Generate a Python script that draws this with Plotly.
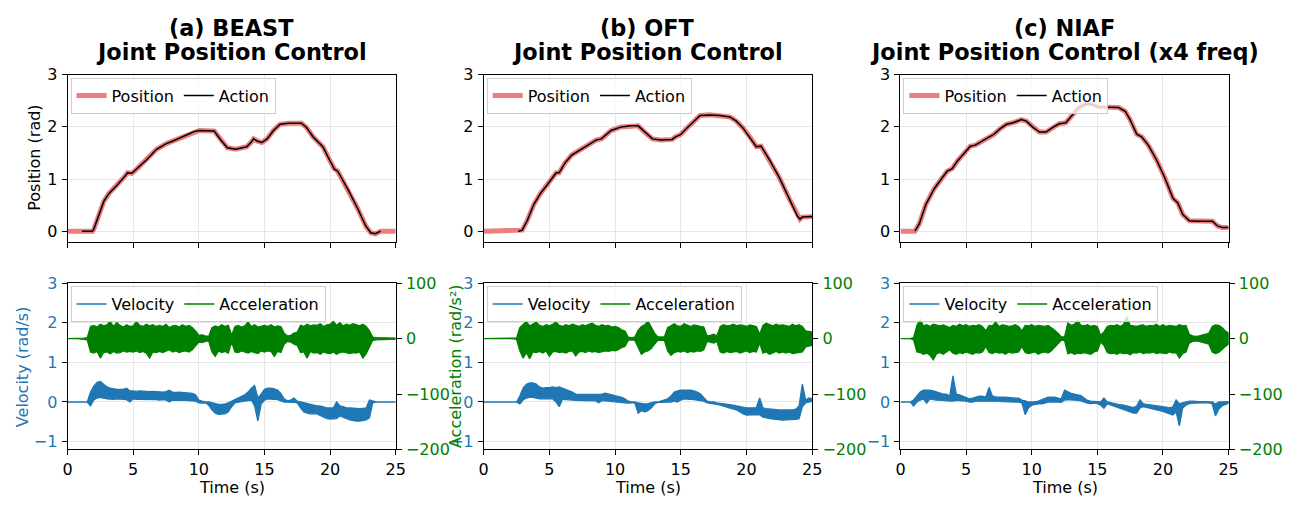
import plotly.graph_objects as go

# ---------------- data ----------------
titles_l1 = ["(a) BEAST", "(b) OFT", "(c) NIAF"]
titles_l2 = ["Joint Position Control", "Joint Position Control", "Joint Position Control (x4 freq)"]

# Joint position (rad) vs time (s)
posA_t = [0, 1.1, 1.9, 2.0, 2.38, 2.76, 3.14, 3.77, 4.39, 4.57, 4.9, 5.27, 6.02, 6.78, 7.53, 8.03,
          8.78, 9.66, 10.04, 11.17, 11.67, 12.17, 12.8, 13.65, 14.0, 14.18, 14.43, 14.8, 15.2, 15.69,
          16.19, 16.82, 17.82, 18.2, 18.7, 19.45, 19.95, 20.33, 20.58, 21.34, 22.09, 22.72, 23.1,
          23.46, 23.85, 25]
posA_v = [0, 0, 0, 0.04, 0.32, 0.57, 0.72, 0.88, 1.06, 1.12, 1.11, 1.19, 1.37, 1.57, 1.68, 1.73,
          1.81, 1.91, 1.93, 1.92, 1.75, 1.6, 1.57, 1.62, 1.71, 1.77, 1.73, 1.70, 1.77, 1.93,
          2.05, 2.07, 2.07, 1.99, 1.81, 1.62, 1.37, 1.19, 1.15, 0.81, 0.44, 0.10, -0.03,
          -0.05, 0, 0]
actA_range = (1.1, 23.85)

posB_t = [0, 2.63, 2.68, 2.93, 3.31, 3.81, 4.31, 4.81, 5.32, 5.52, 5.74, 6.19, 6.7, 7.2, 7.82,
          8.58, 8.95, 9.7, 10.46, 11.2, 11.76, 12.21, 12.84, 13.47, 14.34, 14.6, 14.97, 15.47,
          15.97, 16.47, 17.23, 17.98, 18.73, 19.23, 19.73, 20.36, 20.74, 21.11, 21.74, 22.49,
          23.24, 23.87, 24.07, 24.25, 25]
posB_v = [0, 0, 0, 0.02, 0.2, 0.51, 0.72, 0.88, 1.06, 1.12, 1.12, 1.31, 1.46, 1.54, 1.63,
          1.75, 1.77, 1.93, 2.0, 2.02, 2.02, 1.91, 1.77, 1.75, 1.76, 1.81, 1.85, 1.98,
          2.11, 2.22, 2.23, 2.22, 2.19, 2.11, 1.98, 1.77, 1.62, 1.63, 1.37, 1.03,
          0.63, 0.29, 0.23, 0.27, 0.28]
actB_range = (2.63, 25)

posC_t = [0, 1.1, 1.43, 1.93, 2.56, 3.19, 3.56, 3.94, 4.32, 4.94, 5.32, 5.7, 6.2, 6.7, 7.08,
          7.58, 8.08, 8.58, 9.21, 9.59, 10.09, 10.59, 11.09, 11.6, 12.1, 12.6, 13.1, 13.6, 14.1,
          14.48, 15.11, 15.86, 16.62, 17.12, 17.49, 18.0, 18.37, 18.88, 19.5, 20.13, 20.76,
          21.13, 21.51, 22.01, 22.64, 23.77, 24.15, 24.52, 25]
posC_v = [0, 0, 0.14, 0.51, 0.81, 1.03, 1.15, 1.2, 1.34, 1.52, 1.63, 1.65, 1.73, 1.8, 1.85,
          1.96, 2.05, 2.08, 2.14, 2.11, 1.99, 1.9, 1.9, 1.99, 2.06, 2.08, 2.23, 2.37, 2.44,
          2.44, 2.38, 2.38, 2.37, 2.30, 2.14, 1.86, 1.81, 1.65, 1.37, 1.03, 0.63,
          0.54, 0.32, 0.2, 0.19, 0.19, 0.1, 0.07, 0.07]
actC_range = (1.1, 25)

# Sample times of the velocity / acceleration envelopes (every 0.25 s, 0..25 s)
env_t = [i * 0.25 for i in range(101)]

# Velocity (rad/s): upper / lower envelope of the noisy trace
velA_hi = [0, 0, 0, 0,  0, 0, 0, 0.25,  0.4, 0.5, 0.52, 0.45,  0.38, 0.35, 0.33, 0.32,
           0.32, 0.32, 0.35, 0.28,  0.28, 0.27, 0.28, 0.27,  0.27, 0.26, 0.27, 0.26,
           0.26, 0.25, 0.26, 0.3,  0.25, 0.24, 0.25, 0.24,  0.24, 0.23, 0.22, 0.18,
           0.05, 0.02, 0.0, 0.0,  -0.02, -0.05, -0.06, -0.06,  -0.05, -0.02, 0.02, 0.05,
           0.1, 0.12, 0.18, 0.25,  0.35, 0.42, 0.1, 0.2,  0.32, 0.35, 0.35, 0.33,
           0.3, 0.22, 0.08, 0.03,  0.05, 0.1, 0.02, 0.0,  -0.02, -0.05, -0.07, -0.08,
           -0.1, -0.1, -0.12, -0.15,  -0.15, -0.15, 0.0, -0.1,  -0.12, -0.15, -0.15, -0.16,
           -0.17, -0.17, -0.16, -0.15,  0.05, 0.02, 0, 0,  0, 0, 0, 0,  0]
velA_lo = [0, 0, 0, 0,  0, 0, 0, -0.1,  0.05, 0.1, 0.12, 0.1,  0.08, 0.07, 0.07, 0.08,
           0.08, 0.07, 0.06, 0.0,  0.08, 0.07, 0.07, 0.06,  0.06, 0.07, 0.06, 0.06,
           0.05, 0.06, 0.05, 0.0,  0.05, 0.04, 0.05, 0.04,  0.04, 0.03, 0.03, 0.02,
           -0.02, -0.03, -0.02, -0.08,  -0.2, -0.28, -0.31, -0.31,  -0.3, -0.25, -0.12, -0.02,
           0.0, 0.01, 0.02, 0.03,  0.05, -0.1, -0.48, -0.05,  0.05, 0.08, 0.08, 0.07,
           0.06, 0.03, 0.0, -0.01,  -0.01, -0.01, -0.02, -0.15,  -0.25, -0.28, -0.3, -0.3,
           -0.3, -0.35, -0.38, -0.42,  -0.43, -0.43, -0.42, -0.35,  -0.38, -0.42, -0.45, -0.47,
           -0.48, -0.48, -0.47, -0.45,  -0.4, -0.02, 0, 0,  0, 0, 0, 0,  0]

velB_hi = [0, 0, 0, 0,  0, 0, 0, 0,  0, 0, 0, 0.15,  0.35, 0.45, 0.48, 0.48,
           0.45, 0.38, 0.35, 0.36,  0.36, 0.38, 0.36, 0.38,  0.35, 0.32, 0.28, 0.25,
           0.2, 0.19, 0.19, 0.19,  0.19, 0.19, 0.19, 0.2,  0.2, 0.22, 0.2, 0.18,
           0.15, 0.14, 0.12, 0.08,  0.02, 0.0, 0.0, -0.02,  -0.03, -0.05, -0.04, -0.02,
           0.0, 0.0, 0.02, 0.05,  0.08, 0.15, 0.25, 0.28,  0.3, 0.3, 0.3, 0.3,
           0.28, 0.25, 0.2, 0.12,  0.02, 0.0, 0.0, -0.02,  -0.03, -0.04, -0.05, -0.06,
           -0.08, -0.1, -0.12, -0.14,  -0.15, -0.15, -0.15, -0.14,  0.1, -0.15, -0.17, -0.18,
           -0.19, -0.2, -0.2, -0.2,  -0.2, -0.2, -0.2, -0.18,  -0.1, 0.45, 0.05, 0.1,  0.08]
velB_lo = [0, 0, 0, 0,  0, 0, 0, 0,  0, 0, 0, -0.05,  0.05, 0.1, 0.12, 0.12,
           0.1, 0.08, 0.07, 0.08,  0.08, 0.08, 0.0, -0.12,  0.07, 0.06, 0.05, 0.05,
           0.04, 0.04, 0.03, 0.03,  0.03, 0.03, 0.03, -0.02,  0.03, 0.03, 0.02, 0.02,
           0.01, 0.0, -0.01, -0.02,  -0.03, -0.02, -0.02, -0.28,  -0.22, -0.25, -0.22, -0.15,
           -0.05, -0.01, -0.01, -0.01,  0.0, 0.0, 0.02, 0.0,  0.05, 0.08, 0.08, 0.07,
           0.06, 0.05, 0.04, 0.02,  -0.02, -0.03, -0.05, -0.06,  -0.08, -0.1, -0.12, -0.15,
           -0.18, -0.2, -0.25, -0.3,  -0.33, -0.33, -0.32, -0.32,  -0.32, -0.38, -0.4, -0.42,
           -0.44, -0.45, -0.45, -0.46,  -0.45, -0.45, -0.44, -0.44,  -0.42, -0.12, -0.02, 0.0,  0.02]

velC_hi = [0, 0, 0, 0,  0.05, 0.15, 0.25, 0.3,  0.3, 0.3, 0.28, 0.25,  0.22, 0.2, 0.2, 0.15,
           0.66, 0.2, 0.18, 0.15,  0.12, 0.08, 0.1, 0.12,  0.15, 0.15, 0.12, 0.37,
           0.15, 0.13, 0.12, 0.12,  0.12, 0.11, 0.11, 0.1,  0.1, 0.05, 0.03, 0.0,
           0.0, 0.0, 0.02, 0.05,  0.08, 0.12, 0.12, 0.12,  0.1, 0.08, 0.3, 0.25,
           0.22, 0.2, 0.18, 0.16,  0.1, 0.04, 0.02, 0.02,  0.01, 0.0, 0.1, 0.0,
           -0.02, -0.03, -0.05, -0.07,  -0.08, -0.1, -0.12, -0.14,  -0.1, 0.05, -0.05, -0.06,
           -0.07, -0.08, -0.1, -0.11,  -0.12, -0.13, -0.15, -0.12,  0.05, -0.05, -0.02, 0.0,
           0.02, 0.02, 0.01, 0.01,  0.01, 0.01, 0.01, 0.0,  -0.05, 0.0, 0.0, 0.01,  0.01]
velC_lo = [0, 0, 0, 0,  -0.1, 0.0, 0.05, 0.08,  -0.03, 0.08, 0.06, 0.05,  0.04, 0.04, 0.03, 0.02,
           0.02, 0.04, 0.04, 0.03,  0.02, 0.0, 0.0, 0.02,  0.02, 0.03, 0.02, 0.02,
           0.03, 0.02, 0.02, 0.01,  0.01, 0.01, 0.0, 0.0,  0.0, -0.02, -0.32, -0.15,
           -0.08, -0.06, -0.05, -0.05,  -0.03, 0.0, 0.01, 0.0,  0.0, -0.01, 0.05, 0.06,
           0.06, 0.05, 0.04, 0.03,  0.01, -0.03, -0.04, -0.03,  -0.04, -0.08, -0.16, -0.05,
           -0.07, -0.1, -0.12, -0.15,  -0.18, -0.22, -0.25, -0.28,  -0.28, -0.15, -0.12, -0.15,
           -0.17, -0.18, -0.2, -0.22,  -0.24, -0.26, -0.3, -0.33,  -0.25, -0.6, -0.15, -0.08,
           -0.04, -0.03, -0.02, -0.02,  -0.02, -0.02, -0.02, -0.05,  -0.35, -0.18, -0.1, -0.06,  -0.03]

# Acceleration (rad/s^2): upper / lower envelope of the noisy trace
accA_hi = [0, 0, 0, 0,  1, 1, 2, 22,  24, 21, 26, 23,  25, 31, 22, 29,  24, 21, 25, 22,
           23, 31, 24, 22,  26, 23, 25, 22,  24, 22, 26, 20,  23, 24, 21, 25,  22, 24, 20, 14,
           6, 7, 5, 4,  20, 23, 21, 25,  22, 24, 6, 22,  24, 21, 23, 30,  22, 25, 21, 23,
           24, 22, 25, 21,  23, 22, 10, 5,  6, 10, 12, 24,  22, 26, 23, 25,  24, 27, 22, 25,
           26, 31, 24, 29,  23, 26, 24, 27,  25, 23, 26, 22,  14, 3, 2, 2,  2, 1, 2, 1,  1]
accA_lo = [0, 0, 0, 0,  -1, -1, -2, -24,  -26, -23, -35, -25,  -24, -27, -23, -26,
           -25, -22, -24, -23,  -24, -22, -25, -23,  -26, -35, -24, -25,  -23, -25, -22, -20,
           -24, -22, -25, -23,  -22, -24, -20, -14,  -6, -7, -5, -4,  -24, -32, -22, -25,
           -23, -26, -6, -24,  -25, -22, -24, -26,  -23, -25, -27, -22,  -24, -22, -23, -32,
           -23, -25, -10, -5,  -6, -10, -12, -25,  -24, -35, -23, -26,  -25, -28, -24, -26,
           -27, -24, -28, -25,  -24, -26, -27, -25,  -26, -24, -35, -27,  -15, -3, -2, -2,
           -2, -1, -2, -1,  -1]

accB_hi = [0, 0, 0, 0,  0, 0, 0, 0,  0, 0, 1, 20,  25, 31, 23, 26,  30, 24, 22, 25,
           23, 26, 30, 24,  22, 25, 23, 26,  24, 22, 25, 23,  26, 28, 24, 22,  25, 23, 24, 21,
           22, 20, 16, 14,  3, 2, 3, 15,  22, 25, 32, 22,  10, 3, 3, 3,  20, 24, 27, 23,
           22, 27, 24, 22,  25, 23, 22, 21,  5, 6, 8, 5,  22, 25, 23, 24,  26, 23, 25, 24,
           22, 25, 23, 22,  8, 24, 28, 25,  23, 26, 24, 25,  24, 22, 26, 23,  25, 22, 14, 13,  12]
accB_lo = [0, 0, 0, 0,  0, 0, 0, 0,  0, 0, -1, -22,  -35, -25, -36, -24,  -25, -23, -26, -22,
           -32, -24, -23, -25,  -24, -26, -23, -22,  -31, -24, -23, -25,  -22, -24, -23, -25,
           -24, -22, -23, -21,  -22, -20, -16, -14,  -3, -2, -3, -16,  -28, -24, -22, -18,
           -10, -3, -3, -3,  -22, -30, -25, -23,  -24, -22, -25, -23,  -24, -22, -23, -20,
           -5, -6, -8, -5,  -24, -26, -23, -25,  -24, -23, -26, -24,  -22, -25, -23, -24,
           -8, -26, -24, -28,  -25, -23, -26, -24,  -26, -24, -27, -25,  -25, -24, -15, -13,  -12]

accC_hi = [0, 0, 0, 0,  2, 24, 35, 23,  25, 22, 26, 24,  23, 25, 22, 20,  24, 22, 26, 23,
           25, 22, 24, 23,  25, 22, 14, 24,  23, 30, 22, 25,  24, 22, 23, 25,  22, 14, 24, 23,
           25, 22, 24, 23,  22, 24, 20, 15,  10, 3, 3, 28,  24, 26, 33, 24,  23, 25, 22, 24,
           22, 6, 12, 22,  24, 23, 25, 22,  26, 40, 24, 23,  22, 24, 25, 22,  24, 23, 26, 22,
           25, 22, 24, 23,  22, 25, 23, 24,  8, 5, 4, 5,  6, 8, 10, 22,  25, 24, 20, 14,  10]
accC_lo = [0, 0, 0, 0,  -2, -24, -25, -28,  -26, -30, -38, -27,  -25, -28, -24, -20,
           -26, -28, -25, -27,  -24, -26, -28, -25,  -26, -24, -14, -25,  -27, -24, -26, -25,
           -28, -24, -26, -25,  -24, -14, -25, -27,  -26, -24, -28, -25,  -24, -26, -22, -16,
           -10, -3, -3, -27,  -25, -28, -26, -27,  -25, -26, -28, -24,  -22, -6, -12, -25,
           -27, -26, -28, -25,  -27, -26, -29, -25,  -26, -24, -27, -25,  -26, -24, -27, -25,
           -26, -27, -24, -26,  -25, -35, -27, -24,  -8, -5, -4, -5,  -6, -8, -10, -24,
           -27, -25, -20, -14,  -10]

for arr in (velA_hi, velA_lo, velB_hi, velB_lo, velC_hi, velC_lo,
            accA_hi, accA_lo, accB_hi, accB_lo, accC_hi, accC_lo):
    assert len(arr) == len(env_t), len(arr)

pos_sets = [(posA_t, posA_v, actA_range), (posB_t, posB_v, actB_range), (posC_t, posC_v, actC_range)]
vel_sets = [(velA_hi, velA_lo), (velB_hi, velB_lo), (velC_hi, velC_lo)]
acc_sets = [(accA_hi, accA_lo), (accB_hi, accB_lo), (accC_hi, accC_lo)]

# ---------------- styling / layout ----------------
W, H = 1291, 505
FONT = "DejaVu Sans"
FS = 16
TITLE_FS = 22.4
POS_C = "#EB7F7F"
BLUE = "#1f77b4"
GREEN = "#008000"
GRID = "#e6e6e6"

col_px = [(63.3, 395.3), (484.3, 816.7), (906.0, 1238.0)]
top_px = (68.3, 241.7)
bot_px = (285.0, 457.7)


def fx(p):
    return p / W


def fy(p):
    return 1 - p / H


fig = go.Figure()
layout = dict(width=W, height=H, margin=dict(l=0, r=0, t=0, b=0),
              paper_bgcolor="white", plot_bgcolor="white",
              font=dict(family=FONT, size=FS, color="black"),
              showlegend=True, annotations=[])

common_x = dict(range=[0, 25], tickvals=[0, 5, 10, 15, 20, 25], ticks="outside", ticklen=5,
                tickwidth=1, tickcolor="black", showline=True, linecolor="black", linewidth=1,
                mirror=True, showgrid=True, gridcolor=GRID, gridwidth=1, zeroline=False,
                tickfont=dict(size=FS, color="black"))
common_y = dict(ticks="outside", ticklen=5, tickwidth=1, tickcolor="black", showline=True,
                linecolor="black", linewidth=1, mirror=True, showgrid=True, gridcolor=GRID,
                gridwidth=1, zeroline=False, ticklabelstandoff=1)

legend_base = dict(orientation="h", xanchor="left", yanchor="top",
                   bgcolor="rgba(255,255,255,0.8)", bordercolor="#cccccc", borderwidth=1,
                   font=dict(family=FONT, size=FS, color="black"), itemwidth=30,
                   tracegroupgap=0, itemclick=False, itemdoubleclick=False)

for i in range(3):
    x0, x1 = col_px[i]
    xd = [fx(x0), fx(x1)]
    ti = i + 1          # top subplot index
    bi = i + 4          # bottom subplot index
    si = i + 7          # secondary (acceleration) axis index

    # ---- top row: position / action
    layout[f"xaxis{ti}"] = dict(common_x, domain=xd, anchor=f"y{ti}", showticklabels=False)
    layout[f"yaxis{ti}"] = dict(common_y, domain=[fy(top_px[1]), fy(top_px[0])], anchor=f"x{ti}",
                                range=[-0.2, 3.0], tickvals=[0, 1, 2, 3],
                                tickfont=dict(size=FS, color="black"))
    pt, pv, (a0, a1) = pos_sets[i]
    lg_top = "legend" if ti == 1 else f"legend{ti}"
    fig.add_trace(go.Scatter(x=pt, y=pv, mode="lines", name="Position",
                             line=dict(color=POS_C, width=5), xaxis=f"x{ti}", yaxis=f"y{ti}",
                             legend=lg_top, hoverinfo="skip"))
    at = [t for t in pt if a0 <= t <= a1]
    av = [v for t, v in zip(pt, pv) if a0 <= t <= a1]
    fig.add_trace(go.Scatter(x=at, y=av, mode="lines", name="Action",
                             line=dict(color="black", width=1.5), xaxis=f"x{ti}", yaxis=f"y{ti}",
                             legend=lg_top, hoverinfo="skip"))
    layout[lg_top] = dict(legend_base, x=fx(x0 + 3), y=fy(top_px[0] + 3))

    # ---- bottom row: velocity / acceleration
    layout[f"xaxis{bi}"] = dict(common_x, domain=xd, anchor=f"y{bi}", showticklabels=True)
    layout[f"yaxis{bi}"] = dict(common_y, domain=[fy(bot_px[1]), fy(bot_px[0])], anchor=f"x{bi}",
                                range=[-1.2, 3.0], tickvals=[-1, 0, 1, 2, 3],
                                ticktext=["\u22121", "0", "1", "2", "3"],
                                tickfont=dict(size=FS, color=BLUE))
    layout[f"yaxis{si}"] = dict(overlaying=f"y{bi}", side="right", anchor=f"x{bi}",
                                range=[-200, 100], tickvals=[-200, -100, 0, 100],
                                ticktext=["\u2212200", "\u2212100", "0", "100"],
                                ticks="outside", ticklen=5, tickwidth=1, tickcolor="black",
                                showline=True, linecolor="black", linewidth=1, showgrid=False,
                                zeroline=False, ticklabelstandoff=1,
                                tickfont=dict(size=FS, color=GREEN))
    vh, vl = vel_sets[i]
    fig.add_trace(go.Scatter(x=env_t + env_t[::-1], y=vh + vl[::-1], mode="lines", fill="toself",
                             fillcolor=BLUE, line=dict(color=BLUE, width=1.3),
                             xaxis=f"x{bi}", yaxis=f"y{bi}", showlegend=False, hoverinfo="skip"))
    ah, al = acc_sets[i]
    fig.add_trace(go.Scatter(x=env_t + env_t[::-1], y=ah + al[::-1], mode="lines", fill="toself",
                             fillcolor=GREEN, line=dict(color=GREEN, width=1.3),
                             xaxis=f"x{bi}", yaxis=f"y{si}", showlegend=False, hoverinfo="skip"))
    lg_bot = f"legend{bi}"
    fig.add_trace(go.Scatter(x=[None], y=[None], mode="lines", name="Velocity",
                             line=dict(color=BLUE, width=1.5), xaxis=f"x{bi}", yaxis=f"y{bi}",
                             legend=lg_bot))
    fig.add_trace(go.Scatter(x=[None], y=[None], mode="lines", name="Acceleration",
                             line=dict(color=GREEN, width=1.5), xaxis=f"x{bi}", yaxis=f"y{si}",
                             legend=lg_bot))
    layout[lg_bot] = dict(legend_base, x=fx(x0 + 3), y=fy(bot_px[0] + 3))

    # ---- titles (two lines) and x labels
    cx = fx((x0 + x1) / 2)
    for txt, yc in ((titles_l1[i], 20), (titles_l2[i], 44.5)):
        layout["annotations"].append(dict(
            x=cx, y=fy(yc), xref="paper", yref="paper", xanchor="center", yanchor="middle",
            showarrow=False, text=f"<b>{txt}</b>",
            font=dict(family=FONT, size=TITLE_FS, color="black")))
    layout["annotations"].append(dict(
        x=cx, y=fy(497.5), xref="paper", yref="paper", xanchor="center",
        yanchor="middle", showarrow=False, text="Time (s)", borderpad=0,
        font=dict(family=FONT, size=FS, color="black")))

# y-axis labels
layout["annotations"].append(dict(
    x=fx(30), y=fy((top_px[0] + top_px[1]) / 2), xref="paper", yref="paper", xanchor="center",
    yanchor="middle", showarrow=False, textangle=-90, text="Position (rad)",
    font=dict(family=FONT, size=FS, color="black")))
layout["annotations"].append(dict(
    x=fx(18), y=fy((bot_px[0] + bot_px[1]) / 2), xref="paper", yref="paper", xanchor="center",
    yanchor="middle", showarrow=False, textangle=-90, text="Velocity (rad/s)",
    font=dict(family=FONT, size=FS, color=BLUE)))
layout["annotations"].append(dict(
    x=fx(456), y=fy((bot_px[0] + bot_px[1]) / 2), xref="paper", yref="paper", xanchor="center",
    yanchor="middle", showarrow=False, textangle=-90, text="Acceleration (rad/s\u00b2)",
    font=dict(family=FONT, size=FS, color=GREEN)))

fig.update_layout(**layout)
fig.write_html("out.html")
